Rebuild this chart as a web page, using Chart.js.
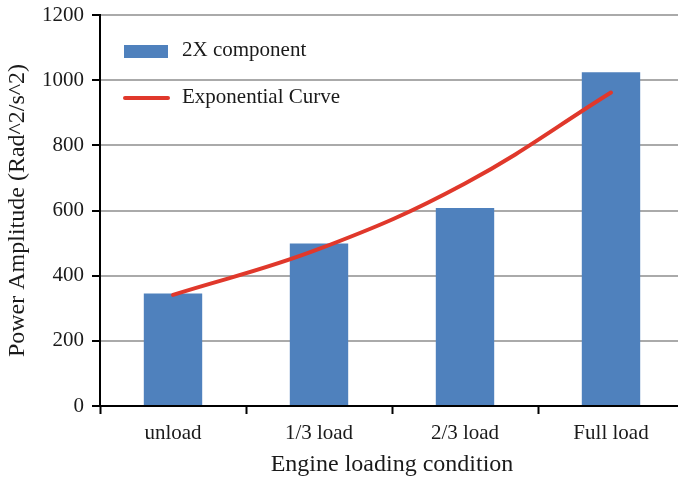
<!DOCTYPE html>
<html>
<head>
<meta charset="utf-8">
<script src="https://cdn.jsdelivr.net/npm/chart.js@4"></script>
<style>
  html, body { margin: 0; padding: 0; background: #fff; overflow: hidden; }
  #wrap { width: 690px; height: 480px; }
</style>
</head>
<body>
<div id="wrap"><canvas id="c" width="690" height="480"></canvas></div>
<script>
const categories = ["unload", "1/3 load", "2/3 load", "Full load"];
const barValues = [345, 499, 608, 1024];
const curveValues = [341, 482, 683, 962];
const barLabel = "2X component";
const curveLabel = "Exponential Curve";
const yTitle = "Power Amplitude (Rad^2/s^2)";
const xTitle = "Engine loading condition";

const FONT = "'Liberation Serif', 'Times New Roman', serif";
const BLUE = "#4F81BD";
const RED = "#E0382B";

const legendPlugin = {
  id: 'insideLegend',
  afterDraw(chart) {
    const ctx = chart.ctx;
    ctx.save();
    ctx.font = "21px " + FONT;
    ctx.textBaseline = "middle";
    ctx.fillStyle = BLUE;
    ctx.fillRect(124, 45, 44, 13);
    ctx.fillStyle = "#1a1a1a";
    ctx.fillText(chart.data.datasets[0].label, 182, 50);
    ctx.strokeStyle = RED;
    ctx.lineWidth = 4;
    ctx.lineCap = "round";
    ctx.beginPath();
    ctx.moveTo(125, 98);
    ctx.lineTo(168, 98);
    ctx.stroke();
    ctx.fillText(chart.data.datasets[1].label, 182, 97);
    ctx.restore();
  }
};

new Chart(document.getElementById('c'), {
  type: 'bar',
  data: {
    labels: categories,
    datasets: [
      {
        type: 'bar',
        label: barLabel,
        data: barValues,
        backgroundColor: BLUE,
        borderWidth: 0,
        barPercentage: 0.4,
        categoryPercentage: 1.0,
        order: 2
      },
      {
        type: 'line',
        label: curveLabel,
        data: curveValues,
        borderColor: RED,
        borderWidth: 4,
        pointRadius: 0,
        tension: 0.4,
        fill: false,
        borderCapStyle: 'round',
        order: 1
      }
    ]
  },
  options: {
    responsive: false,
    animation: false,
    layout: { padding: { left: 0, right: 6, top: 15, bottom: 0 } },
    plugins: { legend: { display: false }, tooltip: { enabled: false } },
    scales: {
      x: {
        offset: true,
        grid: {
          offset: true,
          drawOnChartArea: false,
          drawTicks: true,
          tickLength: 8,
          tickColor: '#000',
          tickWidth: 2
        },
        border: { color: '#000', width: 2 },
        ticks: { color: '#1a1a1a', font: { family: FONT, size: 21 }, padding: 7, maxRotation: 0 },
        title: { display: true, text: xTitle, color: '#1a1a1a', font: { family: FONT, size: 24 }, padding: { top: 0, bottom: 1 } },
        afterFit(scale) { scale.height = 74; scale.paddingLeft = 0; scale.paddingRight = 0; }
      },
      y: {
        min: 0,
        max: 1200,
        ticks: {
          stepSize: 200,
          color: '#1a1a1a',
          font: { family: FONT, size: 21 },
          padding: 8,
          callback: (v) => String(v)
        },
        grid: {
          color: '#aaaaaa',
          lineWidth: 2,
          tickLength: 8,
          tickColor: '#000',
          tickWidth: 2
        },
        border: { color: '#000', width: 2 },
        title: { display: true, text: yTitle, color: '#1a1a1a', font: { family: FONT, size: 24 }, padding: { top: 3, bottom: 0 } },
        afterFit(scale) { scale.width = 100; scale.paddingTop = 0; scale.paddingBottom = 0; }
      }
    }
  },
  plugins: [legendPlugin]
});
</script>
</body>
</html>
